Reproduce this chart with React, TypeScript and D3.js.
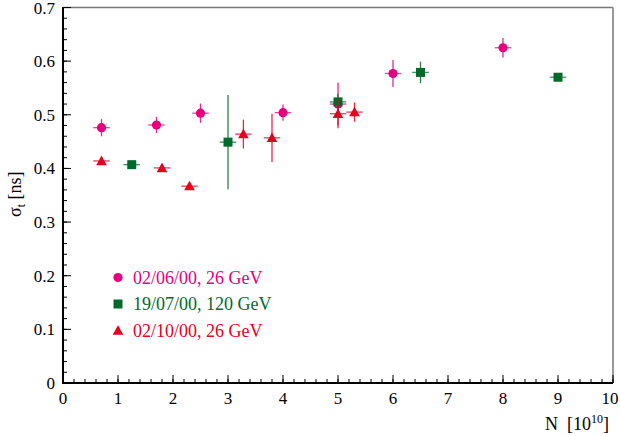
import React from "react";
import * as d3 from "d3";

const pinkX = [0.7, 1.7, 2.5, 4.0, 5.0, 6.0, 8.0];
const pinkY = [0.476, 0.481, 0.503, 0.504, 0.52, 0.577, 0.625];
const pinkErr = [0.016, 0.015, 0.018, 0.015, 0.04, 0.025, 0.018];

const greenX = [1.25, 3.0, 5.0, 6.5, 9.0];
const greenY = [0.407, 0.449, 0.524, 0.579, 0.570];
const greenErr = [0.004, 0.088, 0.015, 0.02, 0.005];

const redX = [0.7, 1.8, 2.3, 3.28, 3.8, 5.0, 5.3];
const redY = [0.414, 0.401, 0.367, 0.464, 0.457, 0.502, 0.505];
const redErr = [0.004, 0.004, 0.004, 0.027, 0.045, 0.027, 0.018];

const xErr = 0.15;
const xTicks = [0, 1, 2, 3, 4, 5, 6, 7, 8, 9, 10];
const yTicks = [0, 0.1, 0.2, 0.3, 0.4, 0.5, 0.6, 0.7];
const legendLabels = ["02/06/00, 26 GeV", "19/07/00, 120 GeV", "02/10/00, 26 GeV"];

const PINK = "#e5007e";
const GREEN = "#006a2c";
const RED = "#e6001f";

const W = 620, H = 436;
const L = 63, R = 613, T = 7.5, B = 383;

export default function App() {
  const x = d3.scaleLinear().domain([0, 10]).range([L, R]);
  const y = d3.scaleLinear().domain([0, 0.7]).range([B, T]);
  const font = "Liberation Serif, Times New Roman, serif";

  const xMinor = d3.range(0, 10.001, 0.2);
  const yMinor = d3.range(0, 0.7001, 0.02);

  const series = [
    { xs: pinkX, ys: pinkY, es: pinkErr, color: PINK, shape: "circle" },
    { xs: greenX, ys: greenY, es: greenErr, color: GREEN, shape: "square" },
    { xs: redX, ys: redY, es: redErr, color: RED, shape: "triangle" },
  ];

  const marker = (shape: string, cx: number, cy: number, color: string, key?: any) => {
    if (shape === "circle") return <circle key={key} cx={cx} cy={cy} r={4.6} fill={color} />;
    if (shape === "square") return <rect key={key} x={cx - 4.5} y={cy - 4.5} width={9} height={9} fill={color} />;
    const s = 5.3;
    return (
      <path
        key={key}
        d={`M${cx},${cy - s} L${cx + s},${cy + s * 0.8} L${cx - s},${cy + s * 0.8} Z`}
        fill={color}
      />
    );
  };

  return (
    <svg width={W} height={H} style={{ display: "block", position: "absolute", left: 0, top: 0, fontFamily: font }}>
      <rect x={0} y={0} width={W} height={H} fill="white" />
      {/* frame */}
      <line x1={L} y1={T} x2={R} y2={T} stroke="#777" strokeWidth={1.5} />
      <line x1={R} y1={T} x2={R} y2={B} stroke="#777" strokeWidth={1.5} />
      {/* minor ticks */}
      {xMinor.map((v, i) => (
        <line key={"xm" + i} x1={x(v)} x2={x(v)} y1={B} y2={B - 4} stroke="black" strokeWidth={1} />
      ))}
      {xTicks.map((v) => (
        <line key={"xM" + v} x1={x(v)} x2={x(v)} y1={B} y2={B - 8} stroke="black" strokeWidth={1} />
      ))}
      {yMinor.map((v, i) => (
        <line key={"ym" + i} x1={L} x2={L + 4} y1={y(v)} y2={y(v)} stroke="black" strokeWidth={1} />
      ))}
      {yTicks.map((v) => (
        <line key={"yM" + v} x1={L} x2={L + 8} y1={y(v)} y2={y(v)} stroke="black" strokeWidth={1} />
      ))}
      <line x1={L} y1={T - 0.5} x2={L} y2={B + 1} stroke="black" strokeWidth={2} />
      <line x1={L - 1} y1={B} x2={R} y2={B} stroke="black" strokeWidth={2} />
      {/* tick labels */}
      {xTicks.map((v) => (
        <text key={"xl" + v} x={Math.min(x(v), 610)} y={404} textAnchor="middle" fontSize={17} fill="black">
          {v}
        </text>
      ))}
      {yTicks.map((v) => (
        <text key={"yl" + v} x={55} y={Math.max(y(v) + 6, 14)} textAnchor="end" fontSize={17} fill="black">
          {v === 0 ? "0" : v.toFixed(1)}
        </text>
      ))}
      {/* axis titles */}
      <text x={609} y={430} textAnchor="end" fontSize={18} fill="black">
        N{"\u00a0\u00a0"}[10<tspan fontSize={12} dy={-7}>10</tspan>
        <tspan dy={7}>]</tspan>
      </text>
      <text transform="translate(21,217) rotate(-90)" fontSize={18} fill="black">
        σ<tspan fontSize={12} dy={4}>t</tspan>
        <tspan dy={-4}> [ns]</tspan>
      </text>
      {/* data */}
      {series.map((s, si) => (
        <g key={"s" + si}>
          {s.xs.map((xv, i) => (
            <g key={i}>
              <line x1={x(xv - xErr)} x2={x(xv + xErr)} y1={y(s.ys[i])} y2={y(s.ys[i])} stroke={s.color} strokeWidth={1.3} strokeOpacity={0.75} />
              <line x1={x(xv)} x2={x(xv)} y1={y(s.ys[i] - s.es[i])} y2={y(s.ys[i] + s.es[i])} stroke={s.color} strokeWidth={1.3} strokeOpacity={0.85} />
              {marker(s.shape, x(xv), y(s.ys[i]), s.color)}
            </g>
          ))}
        </g>
      ))}
      {/* legend */}
      {series.map((s, i) => (
        <g key={"lg" + i}>
          {marker(s.shape, 118, 277.5 + i * 26.5, s.color)}
          <text x={133} y={283.5 + i * 26.5} fontSize={18} fill={s.color}>
            {legendLabels[i]}
          </text>
        </g>
      ))}
    </svg>
  );
}
